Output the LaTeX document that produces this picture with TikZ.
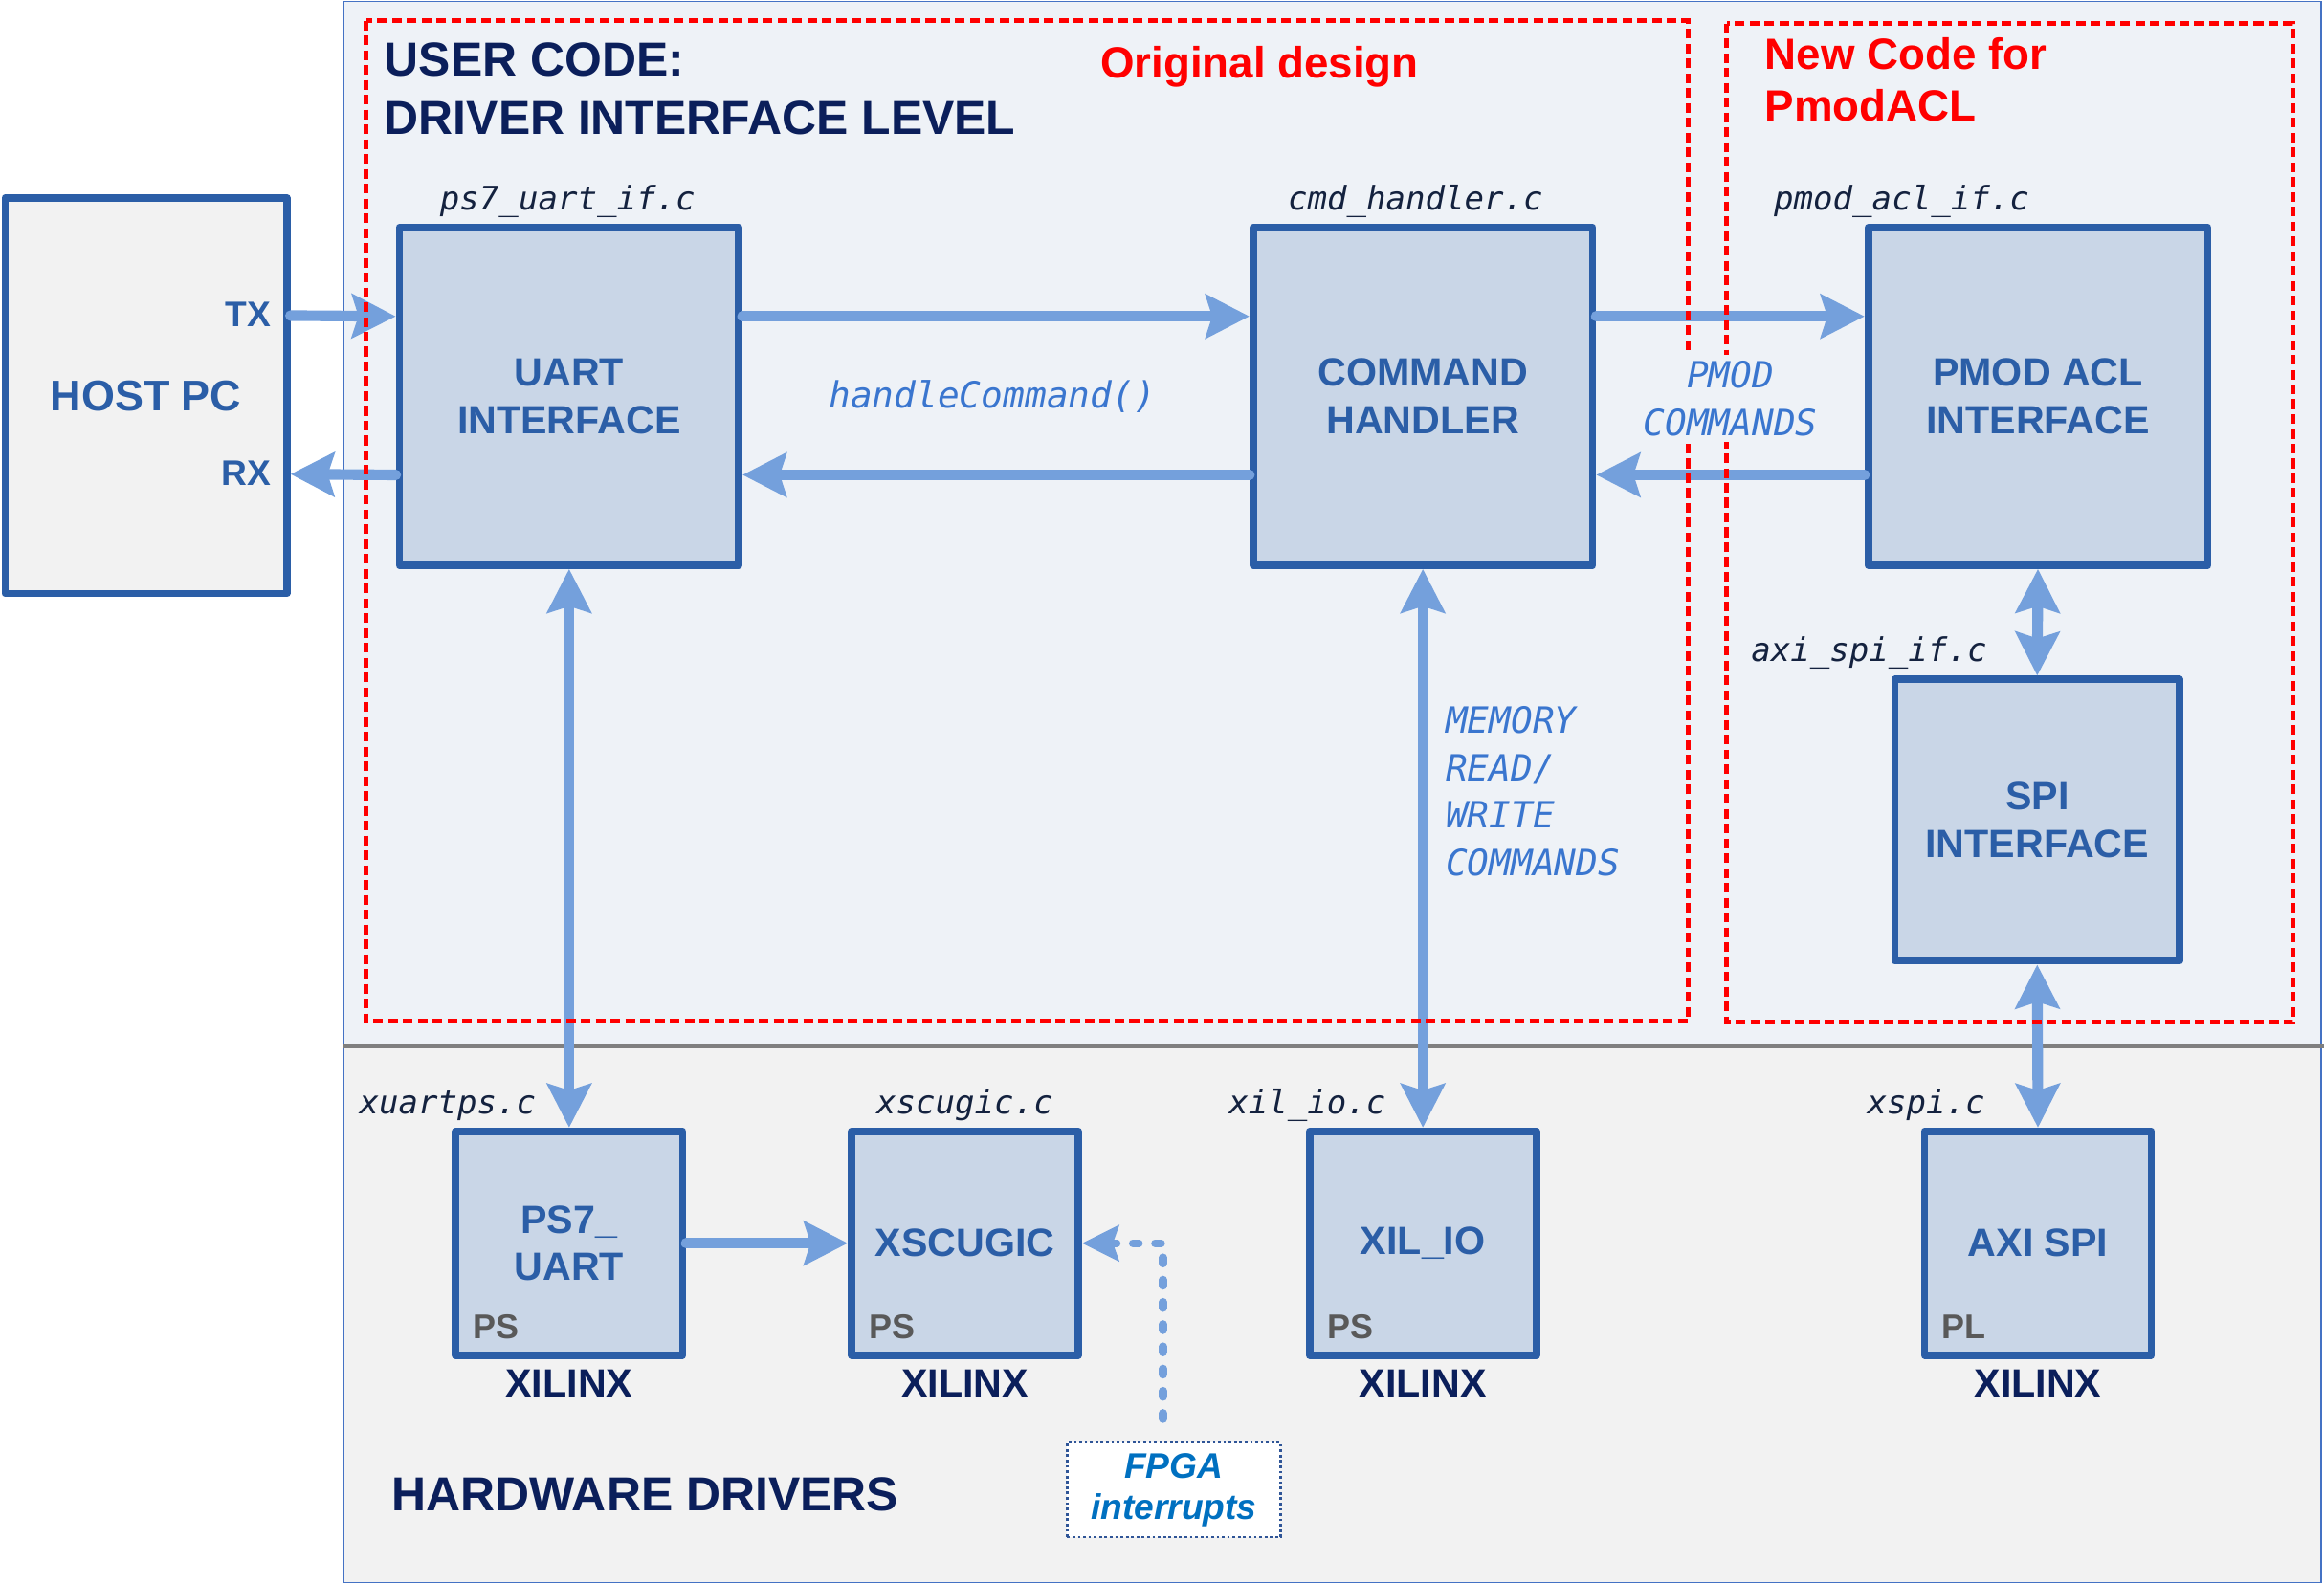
\documentclass[tikz,border=0pt]{standalone}
\usepackage{fontspec}
\setmainfont{Liberation Sans}
\newfontfamily\monofam{DejaVu Sans Mono}
\usetikzlibrary{arrows.meta}
\definecolor{boxblue}{HTML}{2B5EA7}
\definecolor{boxfill}{HTML}{C9D6E7}
\definecolor{hostfill}{HTML}{F2F2F2}
\definecolor{arrowblue}{HTML}{74A0DC}
\definecolor{topfill}{HTML}{EEF2F7}
\definecolor{botfill}{HTML}{F2F2F2}
\definecolor{panelline}{HTML}{4472C4}
\definecolor{navy}{HTML}{0B1F5B}
\definecolor{fnamec}{HTML}{14223F}
\definecolor{lblue}{HTML}{3A76CF}
\definecolor{pstext}{HTML}{595959}
\definecolor{fpgablue}{HTML}{0070C0}
\definecolor{fpgaline}{HTML}{2F5597}
\definecolor{divgray}{HTML}{7F7F7F}
\definecolor{redd}{HTML}{FF0000}
\tikzset{
  myhead/.tip={Stealth[length=14.75pt,width=14.75pt,inset=2.2pt]},
  smallhead/.tip={Stealth[length=12.4pt,width=12pt,inset=2pt]}
}
\begin{document}
\begin{tikzpicture}[x=0.5pt,y=-0.5pt,
  blk/.style={draw=boxblue, fill=boxfill, line width=2.5pt, line join=round,
    minimum width=114.5pt, minimum height=114pt, inner sep=0pt, align=center,
    text=boxblue, font=\fontsize{13.3}{16}\selectfont\bfseries},
  sblk/.style={blk, minimum width=76.5pt, minimum height=75.5pt},
  hostbox/.style={blk, fill=hostfill, minimum width=95pt, minimum height=133.5pt,
    font=\fontsize{14.5}{17}\selectfont\bfseries},
  pstag/.style={anchor=base west, inner sep=0pt, text=pstext,
    font=\fontsize{11.6}{14}\selectfont\bfseries},
  xil/.style={anchor=north, inner sep=0pt, text=navy,
    font=\fontsize{13.3}{16}\selectfont\bfseries},
  fname/.style={anchor=base, inner sep=0pt, text=fnamec,
    font=\monofam\itshape\fontsize{11}{13}\selectfont},
  bmono/.style={inner sep=0pt, text=lblue,
    font=\monofam\itshape\fontsize{12.2}{16}\selectfont},
  title/.style={anchor=base west, inner sep=0pt, text=navy,
    font=\fontsize{16.1}{19}\selectfont\bfseries},
  redt/.style={anchor=base west, inner sep=0pt, text=redd,
    font=\fontsize{14.75}{17}\selectfont\bfseries},
  trx/.style={anchor=east, inner sep=0pt, text=boxblue,
    font=\fontsize{12}{14}\selectfont\bfseries},
  arr/.style={draw=arrowblue, line width=3.6pt, line cap=round, -myhead},
  darr/.style={draw=arrowblue, line width=3.6pt, myhead-myhead},
  dasharr/.style={draw=arrowblue, line width=2.7pt, line cap=round,
    dash pattern=on 2pt off 5.5pt, smallhead-},
  reddash/.style={draw=redd, line width=1.6pt, dash pattern=on 3.25pt off 1.75pt},
  fpgabox/.style={draw=fpgaline, fill=white, line width=0.75pt,
    dash pattern=on 0.9pt off 0.9pt, minimum width=72pt, minimum height=32pt,
    inner sep=0pt, align=center, text=fpgablue,
    font=\fontsize{12}{14}\selectfont\bfseries\itshape}
]
\useasboundingbox (0,0) rectangle (1568,1069);

% panels
\fill[topfill] (232,1) rectangle (1566,706);
\fill[botfill] (232,706) rectangle (1566,1068);
\draw[panelline, line width=0.6pt] (232,1) rectangle (1566,1068);
\draw[divgray, line width=1.5pt] (232,706) -- (1568,706);

% blocks
\node[hostbox] (host) at (98.5,267) {HOST PC};
\node[blk] (uart) at (384,267.5) {UART\\INTERFACE};
\node[blk] (cmd) at (960,267.5) {COMMAND\\HANDLER};
\node[blk] (pmod) at (1375,267.5) {PMOD ACL\\INTERFACE};
\node[blk, minimum width=96pt, minimum height=95pt] (spi) at (1374.5,553.5) {SPI\\INTERFACE};
\node[sblk] (ps7) at (384,839) {PS7\_\\UART};
\node[sblk] (xscugic) at (651,839) {XSCUGIC};
\node[sblk] (xilio) at (960,839) {XIL\_IO};
\node[sblk] (axispi) at (1375,839) {AXI SPI};

% PS/PL tags
\node[pstag] (t1) at ([xshift=7pt,yshift=6.9pt]ps7.south west) {PS};
\node[pstag] (t2) at ([xshift=7pt,yshift=6.9pt]xscugic.south west) {PS};
\node[pstag] (t3) at ([xshift=7pt,yshift=6.9pt]xilio.south west) {PS};
\node[pstag] (t4) at ([xshift=7pt,yshift=6.9pt]axispi.south west) {PL};

% XILINX
\node[xil] (x1) at ([yshift=-3.5pt]ps7.south) {XILINX};
\node[xil] (x2) at ([yshift=-3.5pt]xscugic.south) {XILINX};
\node[xil] (x3) at ([yshift=-3.5pt]xilio.south) {XILINX};
\node[xil] (x4) at ([yshift=-3.5pt]axispi.south) {XILINX};

% FPGA box
\node[fpgabox] (fpga) at (792,1005.5) {FPGA\\interrupts};

% arrows
\draw[arr] ([yshift=27pt]host.east) -- ([yshift=27pt]uart.west);
\draw[arr] ([yshift=-26.5pt]uart.west) -- ([yshift=-26.5pt]host.east);
\draw[arr] ([yshift=27pt]uart.east) -- ([yshift=27pt]cmd.west);
\draw[arr] ([yshift=-26.5pt]cmd.west) -- ([yshift=-26.5pt]uart.east);
\draw[arr] ([yshift=27pt]cmd.east) -- ([yshift=27pt]pmod.west);
\draw[arr] ([yshift=-26.5pt]pmod.west) -- ([yshift=-26.5pt]cmd.east);
\draw[darr] (uart.south) -- (ps7.north);
\draw[darr] (cmd.south) -- (xilio.north);
\draw[darr] (pmod.south) -- (spi.north);
\draw[darr] (spi.south) -- (axispi.north);
\draw[arr] (ps7.east) -- (xscugic.west);
\draw[dasharr] (xscugic.east) -| ([xshift=-3.65pt,yshift=3pt]fpga.north);

% red dashed regions
\draw[reddash] (247,14) rectangle (1139,689);
\draw[reddash] (1165,16) rectangle (1547,690);

% titles
\node[title] (tu1) at (259,51.5) {USER CODE:};
\node[title] (tu2) at (259,90.5) {DRIVER INTERFACE LEVEL};
\node[title] (thw) at (264,1019.7) {HARDWARE DRIVERS};
\node[redt] (tor) at (742,52.7) {Original design};
\node[redt] (tn1) at (1190.5,46.8) {New Code for};
\node[redt] (tn2) at (1190.5,81.6) {PmodACL};

% TX / RX
\node[trx] (tx) at (183,212) {TX};
\node[trx] (rx) at (183,319.5) {RX};

% file names
\node[fname] (f1) at (383,141.5) {ps7\_uart\_if.c};
\node[fname] (f2) at (955,141.5) {cmd\_handler.c};
\node[fname] (f3) at (1283,141.5) {pmod\_acl\_if.c};
\node[fname] (f4) at (1261,446.5) {axi\_spi\_if.c};
\node[fname] (f5) at (302,752) {xuartps.c};
\node[fname] (f6) at (651,752) {xscugic.c};
\node[fname] (f7) at (882,752) {xil\_io.c};
\node[fname] (f8) at (1299.5,752) {xspi.c};

% blue italic mono labels
\node[bmono, anchor=base] (hc) at (669.5,275) {handleCommand()};
\node[bmono, fill=topfill, align=center, inner sep=2pt] (pc) at (1167.5,269) {PMOD\\COMMANDS};
\node[bmono, anchor=base west] (m1) at (975,495) {MEMORY};
\node[bmono, anchor=base west] (m2) at (975,527) {READ/};
\node[bmono, anchor=base west] (m3) at (975,559) {WRITE};
\node[bmono, anchor=base west] (m4) at (975,591) {COMMANDS};
\end{tikzpicture}
\end{document}
